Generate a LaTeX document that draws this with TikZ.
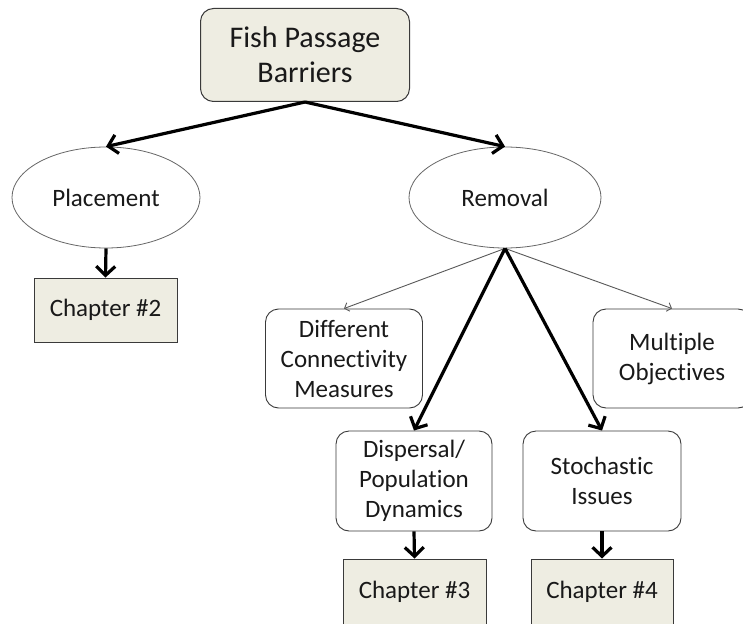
\documentclass[tikz,border=0pt]{standalone}
\usepackage{fontspec}
\setmainfont{Carlito}[Ligatures=NoCommon]
\usetikzlibrary{shapes.geometric,arrows.meta}
\definecolor{beige}{HTML}{EEEDE2}
\definecolor{edge}{HTML}{3A3A3A}
\tikzset{
  base/.style={align=center,font=\fontsize{25}{30}\selectfont,inner sep=0pt,text=black!90},
  topbox/.style={base,draw=edge,line width=1pt,fill=beige,rounded corners=13pt,minimum width=209pt,minimum height=93pt,font=\fontsize{30}{35}\selectfont},
  oval/.style={base,ellipse,draw=gray!80!black,line width=0.8pt,fill=white},
  chapbox/.style={base,draw=edge,line width=1pt,fill=beige,minimum width=143pt},
  rbox/.style={base,draw=edge,line width=0.9pt,fill=white,rounded corners=13pt,minimum width=157pt,minimum height=99pt},
  thickarr/.style={line width=3.2pt,-{Straight Barb[length=9pt,width=19pt,line width=3.2pt]}},
  thinarr/.style={line width=0.9pt,draw=gray!70!black,-{Straight Barb[length=4pt,width=9pt,line width=0.9pt]}}
}
\begin{document}
\begin{tikzpicture}[x=1pt,y=-1pt]
\useasboundingbox (0,0) rectangle (743,623);
\clip (0,0) rectangle (743,623);
\fill[white] (0,0) rectangle (743,623);
\node[topbox] (top) at (305,55) {Fish Passage\\Barriers};
\node[oval,minimum width=188pt,minimum height=101pt] (place) at (106,197.5) {Placement};
\node[oval,minimum width=192pt,minimum height=101pt] (remov) at (505,197.5) {Removal};
\node[chapbox,minimum height=64pt] (ch2) at (105.5,310) {Chapter \#2};
\node[rbox] (diff) at (344,358.5) {Different\\Connectivity\\Measures};
\node[rbox,minimum width=158pt] (multi) at (672,358.5) {Multiple\\Objectives};
\node[rbox,minimum width=156pt,minimum height=100pt] (disp) at (414,481) {Dispersal/\\Population\\Dynamics};
\node[rbox,minimum width=158pt,minimum height=100pt] (stoch) at (602,481) {Stochastic\\Issues};
\node[chapbox,minimum height=66pt] (ch3) at (414.5,592) {Chapter \#3};
\node[chapbox,minimum width=142pt,minimum height=66pt] (ch4) at (602,592) {Chapter \#4};
\draw[thickarr] (top.south) -- (place.north);
\draw[thickarr] (top.south) -- (remov.north);
\draw[thickarr] (place.south) -- (ch2.north);
\draw[thinarr] (remov.south) -- (diff.north);
\draw[thinarr] (remov.south) -- (multi.north);
\draw[thickarr] (remov.south) -- (disp.north);
\draw[thickarr] (remov.south) -- (stoch.north);
\draw[thickarr] (disp.south) -- (ch3.north);
\draw[thickarr] (stoch.south) -- (ch4.north);
\end{tikzpicture}
\end{document}
